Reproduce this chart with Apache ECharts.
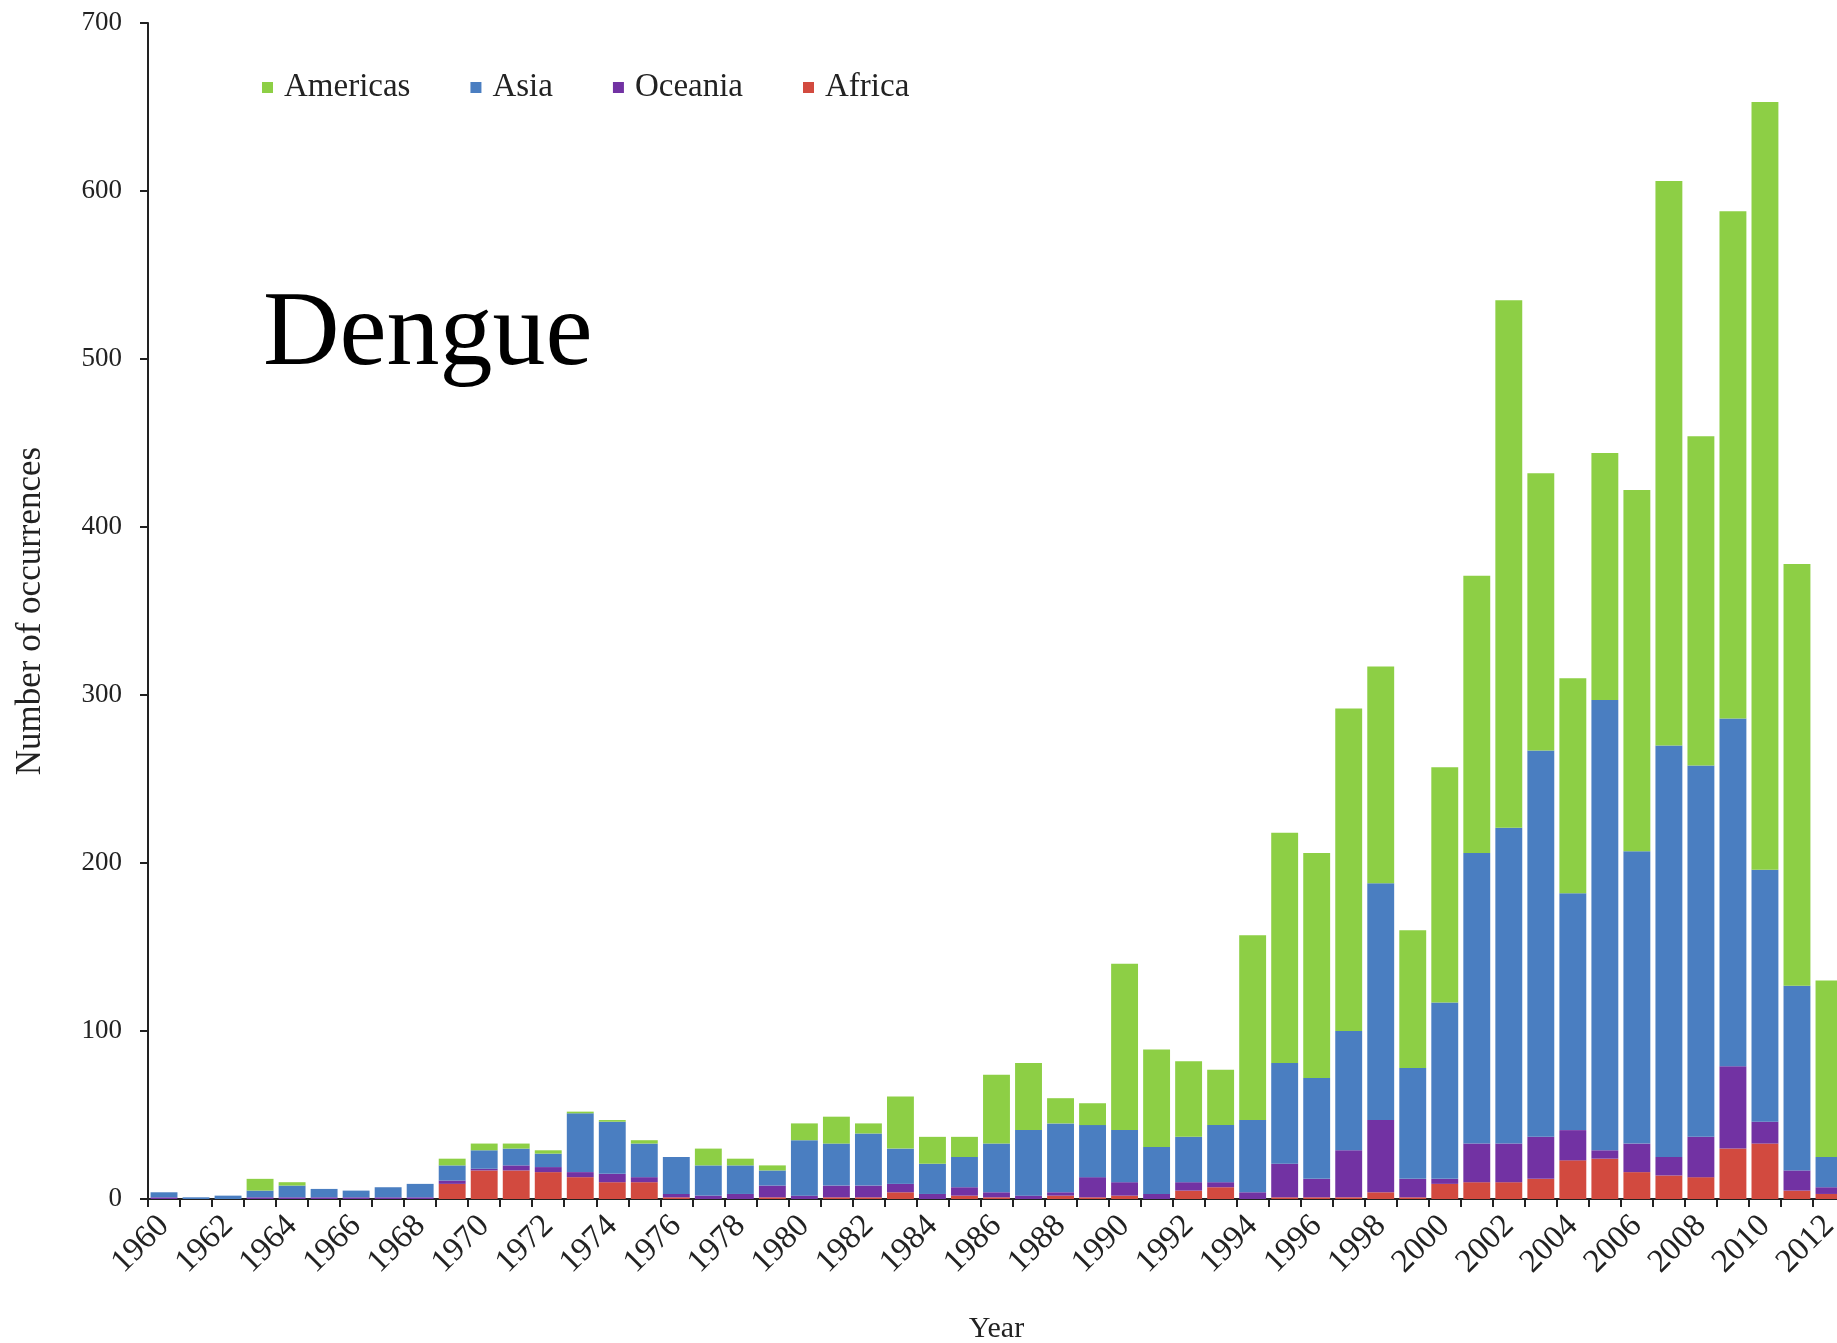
<!DOCTYPE html>
<html>
<head>
<meta charset="utf-8">
<script src="https://cdn.jsdelivr.net/npm/echarts@6/dist/echarts.min.js"></script>
<style>
  html, body { margin: 0; padding: 0; background: #fff; }
  #chart { width: 1837px; height: 1343px; }
</style>
</head>
<body>
<div id="chart"></div>
<script>
const years = ['1960','1961','1962','1963','1964','1965','1966','1967','1968','1969',
  '1970','1971','1972','1973','1974','1975','1976','1977','1978','1979',
  '1980','1981','1982','1983','1984','1985','1986','1987','1988','1989',
  '1990','1991','1992','1993','1994','1995','1996','1997','1998','1999',
  '2000','2001','2002','2003','2004','2005','2006','2007','2008','2009',
  '2010','2011','2012'];

const africa = [0,0,0,0,0,0,0,0,0,9, 17,17,16,13,10,10,1,0,0,1,
  0,1,1,4,0,2,1,0,2,1, 2,0,5,7,0,1,1,1,4,1,
  9,10,10,12,23,24,16,14,13,30, 33,5,3];

const oceania = [1,0,0,1,1,1,1,1,1,2, 1,3,3,3,5,3,2,2,3,7,
  2,7,7,5,3,5,3,2,2,12, 8,3,5,3,4,20,11,28,43,11,
  3,23,23,25,18,5,17,11,24,49, 13,12,4];

const asia = [3,1,2,4,7,5,4,6,8,9, 11,10,8,35,31,20,22,18,17,9,
  33,25,31,21,18,18,29,39,41,31, 31,28,27,34,43,60,60,71,141,66,
  105,173,188,230,141,268,174,245,221,207, 150,110,18];

const americas = [0,0,0,7,2,0,0,0,0,4, 4,3,2,1,1,2,0,10,4,3,
  10,16,6,31,16,12,41,40,15,13, 99,58,45,33,110,137,134,192,129,82,
  140,165,314,165,128,147,215,336,196,302, 457,251,105];

const legendOrder = ['Americas', 'Asia', 'Oceania', 'Africa'];

const initChart = function () {
  const myChart = echarts.init(document.getElementById('chart'));
  const serif = 'Liberation Serif';
  const bar = function (name, data, color) {
    return {
      name: name,
      type: 'bar',
      stack: 'total',
      data: data,
      barCategoryGap: '16%',
      itemStyle: { color: color },
      emphasis: { disabled: true }
    };
  };

  const option = {
    animation: false,
    textStyle: { fontFamily: serif },
    title: {
      text: 'Dengue',
      left: 258,
      top: 278,
      textStyle: { fontFamily: serif, fontSize: 106, fontWeight: 'normal', color: '#000' }
    },
    legend: {
      data: legendOrder,
      left: 257,
      top: 66,
      itemWidth: 11,
      itemHeight: 11,
      itemGap: 60,
      icon: 'rect',
      textStyle: { fontFamily: serif, fontSize: 33, color: '#222', padding: [0, 0, 0, 6] }
    },
    grid: {
      left: 148,
      top: 23,
      bottom: 144,
      width: 1697,
      containLabel: false,
      outerBoundsMode: 'none'
    },
    xAxis: {
      type: 'category',
      data: years,
      name: 'Year',
      nameLocation: 'middle',
      nameGap: 115,
      nameTextStyle: { fontFamily: serif, fontSize: 30, color: '#222' },
      axisLine: { lineStyle: { color: '#222', width: 2 } },
      axisTick: { show: true, interval: 0, length: 8, lineStyle: { color: '#222', width: 2 } },
      axisLabel: {
        interval: 1,
        rotate: 45,
        margin: 22,
        fontFamily: serif,
        fontSize: 33,
        color: '#222'
      }
    },
    yAxis: {
      type: 'value',
      min: 0,
      max: 700,
      interval: 100,
      name: 'Number of occurrences',
      nameLocation: 'middle',
      nameGap: 100,
      nameRotate: 90,
      nameTextStyle: { fontFamily: serif, fontSize: 35, color: '#222' },
      axisLine: { show: true, lineStyle: { color: '#222', width: 2 } },
      axisTick: { show: true, length: 8, lineStyle: { color: '#222', width: 2 } },
      splitLine: { show: false },
      axisLabel: { margin: 26, fontFamily: serif, fontSize: 27, color: '#222' }
    },
    series: [
      bar('Africa', africa, '#d24a3f'),
      bar('Oceania', oceania, '#7232a3'),
      bar('Asia', asia, '#4a7ec1'),
      bar('Americas', americas, '#8dcf45')
    ]
  };

  myChart.setOption(option);
};

window.addEventListener('load', function () {
  initChart();
});
</script>
</body>
</html>
